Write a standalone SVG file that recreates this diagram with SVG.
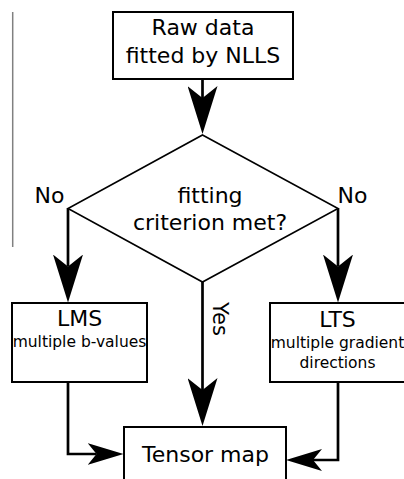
<svg xmlns="http://www.w3.org/2000/svg" width="404" height="479" viewBox="0 0 404 479">
<style>
  .box { fill: #ffffff; stroke: #000000; stroke-width: 2; }
  .dia { fill: #ffffff; stroke: #000000; stroke-width: 1.6; }
  .t { font-family: "DejaVu Sans", "Liberation Sans", sans-serif; fill: #000000; text-anchor: middle; }
  .big { font-size: 22px; }
  .small { font-size: 15.5px; }
  .conn { fill: none; stroke: #000000; stroke-width: 2.7; }
  .ab { marker-end: url(#arrowBig); }
  .as { marker-end: url(#arrowSmall); }
</style>
<defs>
  <marker id="arrowBig" markerUnits="userSpaceOnUse" viewBox="0 0 48 30" markerWidth="48" markerHeight="30" refX="12" refY="15" orient="auto">
    <path d="M0,0 L48,15 L0,30 L12,15 Z" fill="#000000"/>
  </marker>
  <marker id="arrowSmall" markerUnits="userSpaceOnUse" viewBox="0 0 36 22" markerWidth="36" markerHeight="22" refX="9" refY="11" orient="auto">
    <path d="M0,0 L36,11 L0,22 L9,11 Z" fill="#000000"/>
  </marker>
</defs>
<line x1="12.7" y1="12" x2="12.7" y2="247" stroke="#808080" stroke-width="1.5"/>
<g id="connectors">
  <path class="conn ab" d="M202.5,79 L202.5,98"/>
  <path class="conn ab" d="M68,208.5 L68,266.5"/>
  <path class="conn ab" d="M338,208.5 L338,266.5"/>
  <path class="conn ab" d="M202.5,282 L202.5,390"/>
  <path class="conn as" d="M68,382 L68,454 L96.5,454"/>
  <path class="conn as" d="M338,382 L338,460 L313,460"/>
</g>
<g id="raw">
  <rect class="box" x="113" y="12" width="180" height="67"/>
  <text class="t big" x="203" y="35">Raw data</text>
  <text class="t big" x="203" y="63">fitted by NLLS</text>
</g>
<g id="decision">
  <polygon class="dia" points="202.5,135 338,208.5 202.5,282 68,208.5"/>
  <text class="t big" x="210" y="203">fitting</text>
  <text class="t big" x="210" y="230">criterion met?</text>
</g>
<g id="labels">
  <text class="t big" x="49.5" y="203">No</text>
  <text class="t big" x="352.5" y="203">No</text>
  <text class="t" style="font-size:21px;text-anchor:start" transform="translate(213,302) rotate(90)">Yes</text>
</g>
<g id="lms">
  <rect class="box" x="12" y="303" width="135" height="79"/>
  <text class="t big" x="79.5" y="326">LMS</text>
  <text class="t small" x="79.5" y="347">multiple b-values</text>
</g>
<g id="lts">
  <rect class="box" x="270" y="303" width="135" height="79"/>
  <text class="t big" x="337.5" y="326.5">LTS</text>
  <text class="t small" x="337.5" y="348">multiple gradient</text>
  <text class="t small" x="337.5" y="368">directions</text>
</g>
<g id="tensor">
  <rect class="box" x="124" y="427" width="162" height="62"/>
  <text class="t big" x="205.5" y="462">Tensor map</text>
</g>
</svg>
